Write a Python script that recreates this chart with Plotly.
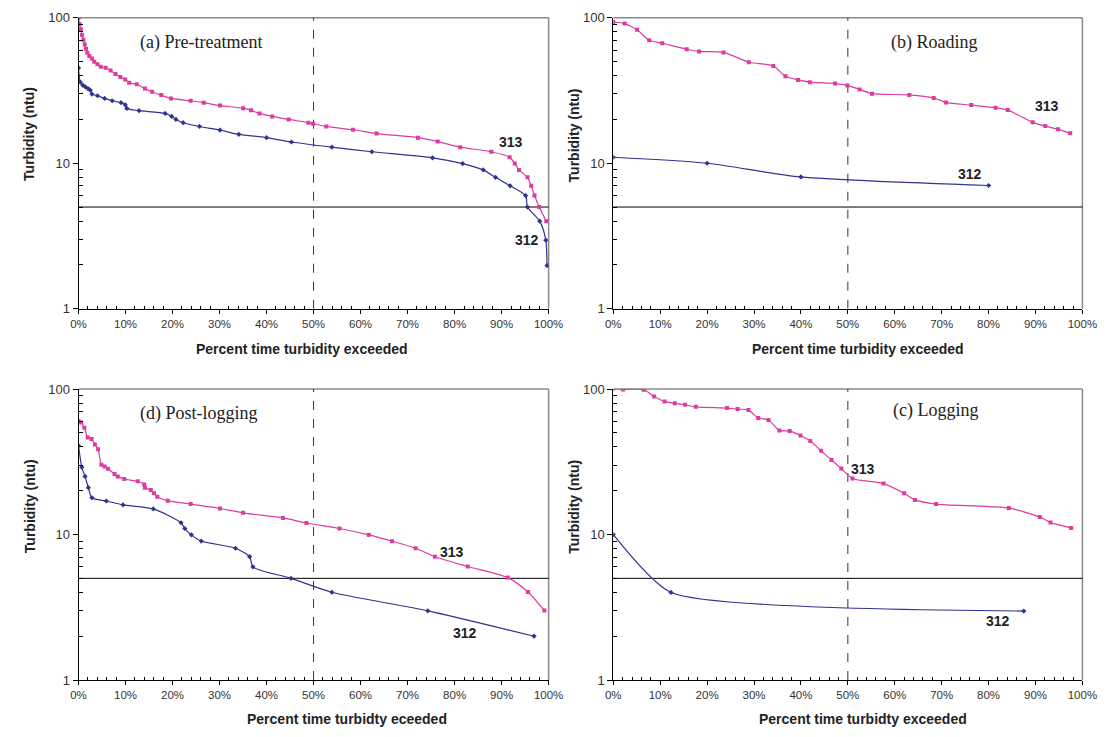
import numpy as np
import plotly.graph_objects as go

W, H = 1117, 737

# ---------------- data (percent time exceeded, turbidity ntu) ----------------
a313_x = [0, 0.21, 0.49, 0.76, 1.04, 1.32, 1.6, 1.88, 2.29, 2.85, 3.34, 4.03, 4.73, 5.77, 6.82,
          7.86, 8.9, 9.94, 10.78, 12.38, 14.12, 15.65, 17.6, 19.68, 23.85, 26.63, 30.1, 35.0,
          36.7, 38.5, 41.2, 44.7, 48.9, 49.9, 52.7, 58.4, 63.4, 72.2, 76.4, 81.2, 87.8, 91.7,
          92.8, 93.7, 95.5, 96.3, 97.0, 98.0, 99.5]
a313_y = [100, 90.6, 83.5, 76, 70.7, 65.5, 61.2, 57.5, 54.7, 52.5, 49.8, 48, 46, 45.4, 43.4,
          41.1, 39.1, 37.7, 35.8, 34.9, 32.6, 31, 29.4, 27.9, 26.9, 26.1, 24.9, 23.9,
          23.1, 22, 21, 20, 19, 18.7, 17.9, 17, 16, 15, 14.1, 12.9, 12, 11,
          9.95, 9, 8, 7, 6, 5, 4]
a312_x = [0, 0.35, 0.9, 1.46, 2.02, 2.5, 2.85, 4.03, 5.56, 7.16, 9.04, 9.94, 10.29, 12.87, 18.43,
          19.82, 20.72, 22.25, 25.73, 30.1, 34.1, 40.0, 45.3, 53.9, 62.4, 75.3, 81.7, 86.1,
          88.7, 91.8, 95.1, 95.5, 98.1, 99.4, 99.65]
a312_y = [45.2, 36.2, 34.4, 33.5, 32.6, 31.8, 29.9, 29.1, 27.9, 26.9, 26.1, 25.2, 23.8, 23, 22,
          21, 20, 19, 17.9, 16.9, 15.8, 15, 14, 12.9, 12, 10.9, 9.95, 9,
          8, 7, 6, 5, 4, 2.96, 1.98]

b313_x = [0, 2.43, 5.08, 7.65, 10.43, 15.65, 18.3, 23.5, 28.9, 34.1, 36.7, 39.4, 41.9, 47.3,
          49.9, 52.5, 55.15, 63.1, 68.3, 70.9, 76.3, 81.5, 84.1, 89.4, 92.1, 94.8, 97.4]
b313_y = [93.5, 91.2, 82.6, 70, 66.8, 60.8, 58.7, 57.8, 49.5, 46.7, 39.6, 37.4, 36.1, 35.3,
          34.3, 32.2, 30.1, 29.5, 28.1, 26.2, 25.1, 24.1, 23.2, 19.1, 18, 17.1, 16.1]
b312_x = [0, 20, 40, 80]
b312_y = [11, 10, 8.05, 7.03]

c313_x = [0, 2.09, 6.48, 8.71, 10.94, 13.1, 15.3, 17.6, 24.25, 26.5, 28.8, 30.9, 33.1, 35.4,
          37.6, 39.9, 42.0, 44.3, 46.5, 48.6, 51.0, 57.6, 62.0, 64.3, 68.8, 84.3, 90.9, 93.2, 97.6]
c313_y = [101, 99.5, 99, 88.8, 82, 80, 78, 75.5, 74, 72.8, 71.7, 63.3, 61.3, 52,
          51.4, 48, 44, 37.7, 32.5, 28.4, 24.3, 22.4, 19.2, 17.3, 16.2, 15.2, 13.2, 12.1, 11.1]
c312_x = [0, 12.3, 87.5]
c312_y = [10, 4.0, 2.98]

d313_x = [0, 0.56, 1.25, 1.95, 2.78, 3.48, 4.17, 4.87, 5.56, 6.26, 7.65, 8.34, 9.74, 12.59,
          13.98, 14.12, 15.37, 16.06, 16.76, 18.98, 23.85, 30.1, 35.0, 43.5, 48.5, 55.5, 61.75,
          66.7, 71.7, 75.8, 82.8, 91.3, 95.6, 99.1]
d313_y = [60.3, 58.8, 54.3, 46.5, 45.4, 41.6, 38.5, 30.2, 29.4, 28.3, 26.1, 25.1, 24.1, 23.2,
          22.1, 21, 20.2, 19.2, 18.2, 17.1, 16.2, 15.1, 14.1, 13, 12, 11, 9.95,
          9, 8.05, 7.04, 6.03, 5.06, 4.03, 3]
d312_x = [0, 0.7, 1.39, 2.09, 2.85, 5.91, 9.46, 15.9, 21.8, 22.6, 24.0, 26.1, 33.4, 36.4, 37.1,
          45.2, 53.9, 74.3, 96.9]
d312_y = [40.9, 29, 25.1, 21, 17.9, 17, 16, 15, 12.05, 11, 9.95, 9.02, 8.05, 7.04, 6,
          5, 4.01, 2.99, 2]

y_tickvals = [1, 10, 100]
y_ticktext = ["1", "10", "100"]
x_tickvals = [0, 10, 20, 30, 40, 50, 60, 70, 80, 90, 100]
x_ticktext = ["0%", "10%", "20%", "30%", "40%", "50%", "60%", "70%", "80%", "90%", "100%"]
threshold_ntu = 5
median_pct = 50

# ---------------- styling / layout ----------------
C313 = "#dc3c9f"
C312 = "#32328f"
SANS = "Liberation Sans, Arial, sans-serif"
SERIF = "Liberation Serif, Times New Roman, serif"

# pixel boxes (left, right, top, bottom)
boxes = {
    "a": (72, 552, 11, 308),
    "b": (618, 1097, 11, 308),
    "d": (72, 552, 390, 687),
    "c": (618, 1097, 390, 687),
}

panels = [
    dict(k="a", ax="", title="(a) Pre-treatment", tpos=(133, 36),
         s313=(a313_x, a313_y), s312=(a312_x, a312_y), sm312=0.7,
         l313=(91.9, 14.0), l312=(95.4, 2.96),
         xtitle="Percent time turbidity exceeded", xt=(300, 349), yt=(22, 130)),
    dict(k="b", ax="2", title="(b) Roading", tpos=(900, 36),
         s313=(b313_x, b313_y), s312=(b312_x, b312_y), sm312=0.7,
         l313=(92.5, 24.8), l312=(76.0, 8.5),
         xtitle="Percent time turbidity exceeded", xt=(868, 349), yt=(578, 131)),
    dict(k="d", ax="3", title="(d) Post-logging", tpos=(133, 415),
         s313=(d313_x, d313_y), s312=(d312_x, d312_y), sm312=0.7,
         l313=(79.4, 7.6), l312=(82.3, 2.1),
         xtitle="Percent time turbidty eceeded", xt=(346, 727), yt=(22, 510)),
    dict(k="c", ax="4", title="(c) Logging", tpos=(902, 412),
         s313=(c313_x, c313_y), s312=(c312_x, c312_y), sm312=0.55,
         l313=(53.3, 28.0), l312=(82.1, 2.54),
         xtitle="Percent time turbidty exceeded", xt=(873, 727), yt=(578, 510)),
]

def px2paper_x(px):
    return px / W

def px2paper_y(py):
    return 1 - py / H

fig = go.Figure()
layout = dict(
    width=W, height=H, margin=dict(l=0, r=0, t=0, b=0),
    paper_bgcolor="white", plot_bgcolor="white", showlegend=False,
    font=dict(family=SANS, color="#222"),
)
annotations = []
shapes = []

for p in panels:
    L, R, T, B = boxes[p["k"]]
    xa = "x" + p["ax"]
    ya = "y" + p["ax"]
    xkey = "xaxis" + p["ax"]
    ykey = "yaxis" + p["ax"]
    layout[xkey] = dict(
        domain=[px2paper_x(L), px2paper_x(R)], anchor=ya, range=[0, 100],
        tickvals=x_tickvals, ticktext=x_ticktext, ticks="outside", ticklen=4,
        tickcolor="black", tickwidth=1, showline=True, linecolor="black", linewidth=1,
        showgrid=False, zeroline=False, tickfont=dict(size=11.5, color="#333", family=SANS),
        minor=dict(tickvals=[v for v in range(0, 101, 2) if v % 10], ticks="inside",
                   ticklen=3, tickcolor="black", showgrid=False),
    )
    layout[ykey] = dict(
        domain=[px2paper_y(B), px2paper_y(T)], anchor=xa, type="log", range=[0, 2],
        tickvals=y_tickvals, ticktext=y_ticktext, ticks="outside", ticklen=5,
        tickcolor="black", tickwidth=1, showline=True, linecolor="black", linewidth=1,
        showgrid=False, zeroline=False, tickfont=dict(size=13, color="#333", family=SANS),
        minor=dict(tickvals=[m * d for d in (1, 10) for m in range(2, 10)], ticks="inside",
                   ticklen=4, tickcolor="black", showgrid=False),
    )
    # frame top/right (gray)
    shapes.append(dict(type="line", xref="paper", yref="paper",
                       x0=px2paper_x(L), x1=px2paper_x(R), y0=px2paper_y(T), y1=px2paper_y(T),
                       line=dict(color="#8a8a8a", width=1.5), layer="below"))
    shapes.append(dict(type="line", xref="paper", yref="paper",
                       x0=px2paper_x(R), x1=px2paper_x(R), y0=px2paper_y(T), y1=px2paper_y(B),
                       line=dict(color="#8a8a8a", width=1.5), layer="below"))
    # threshold & median lines
    shapes.append(dict(type="line", xref=xa + " domain", yref=ya,
                       x0=0, x1=1, y0=threshold_ntu, y1=threshold_ntu,
                       line=dict(color="black", width=1), layer="below"))
    shapes.append(dict(type="line", xref=xa, yref=ya + " domain",
                       x0=median_pct, x1=median_pct, y0=0, y1=1,
                       line=dict(color="#333", width=1, dash="dash"), layer="below"))

    x3, y3 = p["s313"]
    x2, y2 = p["s312"]
    fig.add_trace(go.Scatter(x=x3, y=y3, xaxis=xa, yaxis=ya, mode="lines+markers",
                             line=dict(color=C313, width=1.2, shape="spline", smoothing=0.7),
                             marker=dict(symbol="square", size=4, color=C313)))
    fig.add_trace(go.Scatter(x=x2, y=y2, xaxis=xa, yaxis=ya, mode="lines+markers",
                             line=dict(color=C312, width=1.2, shape="spline", smoothing=p["sm312"]),
                             marker=dict(symbol="diamond", size=4, color=C312)))

    # series labels
    for txt, (lx, ly) in (("313", p["l313"]), ("312", p["l312"])):
        annotations.append(dict(x=lx, y=np.log10(ly), xref=xa, yref=ya, text="<b>" + txt + "</b>",
                                showarrow=False, font=dict(size=14, color="#222", family=SANS)))
    # panel title
    annotations.append(dict(x=px2paper_x(p["tpos"][0]), y=px2paper_y(p["tpos"][1]),
                            xref="paper", yref="paper", xanchor="left", yanchor="middle",
                            text=p["title"], showarrow=False,
                            font=dict(size=18, color="#222", family=SERIF)))
    # axis titles
    annotations.append(dict(x=px2paper_x(p["xt"][0]), y=px2paper_y(p["xt"][1]),
                            xref="paper", yref="paper", xanchor="center", yanchor="middle",
                            text="<b>" + p["xtitle"] + "</b>", showarrow=False,
                            font=dict(size=14, color="#222", family=SANS)))
    annotations.append(dict(x=px2paper_x(p["yt"][0]), y=px2paper_y(p["yt"][1]),
                            xref="paper", yref="paper", xanchor="center", yanchor="middle",
                            text="<b>Turbidity (ntu)</b>", textangle=-90, showarrow=False,
                            font=dict(size=14, color="#222", family=SANS)))

layout["annotations"] = annotations
layout["shapes"] = shapes
fig.update_layout(**layout)
fig.write_html("out.html")
